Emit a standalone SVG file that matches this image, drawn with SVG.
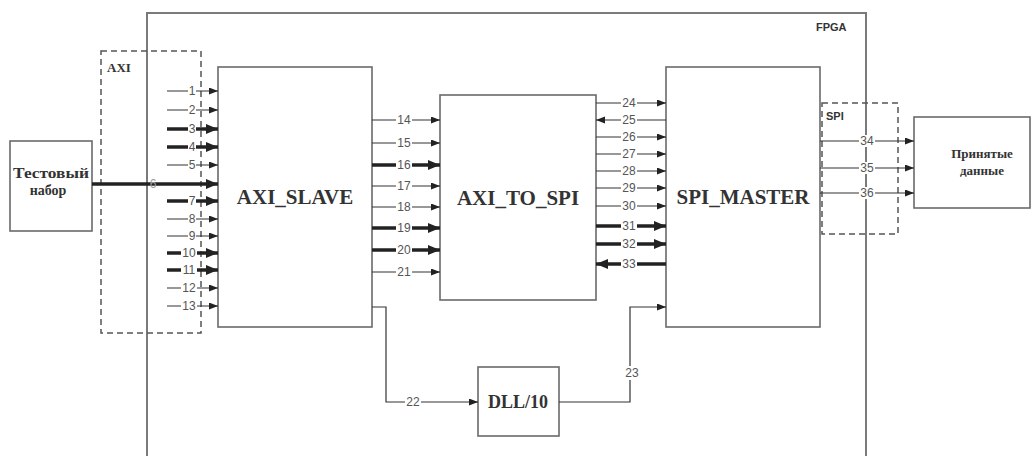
<svg xmlns="http://www.w3.org/2000/svg" width="1032" height="456" viewBox="0 0 1032 456">
<style>
.box{fill:#fff;stroke:#6a6a6a;stroke-width:1.6}
.dash{fill:none;stroke:#555;stroke-width:1.5;stroke-dasharray:6 4}
.fpga{fill:none;stroke:#7a7a7a;stroke-width:2}
.title{font-family:"Liberation Serif","Times New Roman",serif;font-weight:bold;fill:#333;text-anchor:middle}
.tag{font-family:"Liberation Sans",Arial,sans-serif;font-weight:bold;fill:#333;font-size:11px}
.thin{stroke:#333;stroke-width:1.2;fill:none;marker-end:url(#a)}
.thick{stroke:#222;stroke-width:3.5;fill:none;marker-end:url(#b)}
.bg{fill:#fff;stroke:none}
.lbl{font-family:"Liberation Sans",Arial,sans-serif;font-size:12px;fill:#555;text-anchor:middle}
</style>
<defs>
<marker id="a" markerUnits="userSpaceOnUse" markerWidth="10" markerHeight="8" refX="9" refY="3.5" orient="auto"><path d="M0,0 L9,3.5 L0,7 z" fill="#222"/></marker>
<marker id="b" markerUnits="userSpaceOnUse" markerWidth="14" markerHeight="12" refX="12" refY="5" orient="auto"><path d="M0,0 L12,5 L0,10 z" fill="#222"/></marker>
</defs>
<rect width="1032" height="456" fill="#fff"/>

<g id="fpga">
<path class="fpga" d="M147,470 V13 H866 V470"/>
<text class="tag" x="816" y="31">FPGA</text>
</g>

<g id="axi_bus">
<rect class="dash" x="101" y="51" width="100" height="282"/>
<text class="title" x="107" y="72" font-size="13" style="text-anchor:start">AXI</text>
</g>

<g id="spi_bus">
<rect class="dash" x="822" y="103" width="76" height="131"/>
<text class="tag" x="826" y="120">SPI</text>
</g>

<g id="test_set">
<rect class="box" x="10" y="141" width="82" height="90"/>
<text class="title" x="51" y="178" font-size="14" textLength="76" lengthAdjust="spacingAndGlyphs">Тестовый</text>
<text class="title" x="48" y="195" font-size="14">набор</text>
</g>

<g id="axi_slave">
<rect class="box" x="218" y="67" width="154" height="260"/>
<text class="title" x="295" y="204" font-size="21">AXI_SLAVE</text>
</g>

<g id="axi_to_spi">
<rect class="box" x="440" y="95" width="156" height="205"/>
<text class="title" x="518" y="205" font-size="21">AXI_TO_SPI</text>
</g>

<g id="spi_master">
<rect class="box" x="666" y="67" width="154" height="260"/>
<text class="title" x="743" y="204" font-size="21">SPI_MASTER</text>
</g>

<g id="dll">
<rect class="box" x="478" y="367" width="81" height="69"/>
<text class="title" x="518" y="408" font-size="18">DLL/10</text>
</g>

<g id="received">
<rect class="box" x="914" y="117" width="116" height="91"/>
<text class="title" x="982" y="158" font-size="13">Принятые</text>
<text class="title" x="982" y="175" font-size="13">данные</text>
</g>

<g id="connectors">
<!-- AXI inputs 1-13 -->
<path class="thin" d="M167,91 H218"/>
<path class="thin" d="M167,110 H218"/>
<path class="thick" d="M167,129 H218"/>
<path class="thick" d="M167,147 H218"/>
<path class="thin" d="M167,165 H218"/>
<path class="thick" d="M92,184 H218"/>
<path class="thick" d="M167,201 H218"/>
<path class="thin" d="M167,219 H218"/>
<path class="thin" d="M167,236 H218"/>
<path class="thick" d="M167,253 H218"/>
<path class="thick" d="M167,270 H218"/>
<path class="thin" d="M167,288 H218"/>
<path class="thin" d="M167,306 H218"/>

<!-- AXI_SLAVE to AXI_TO_SPI 14-21 -->
<path class="thin" d="M372,120 H440"/>
<path class="thin" d="M372,143 H440"/>
<path class="thick" d="M372,165 H440"/>
<path class="thin" d="M372,186 H440"/>
<path class="thin" d="M372,207 H440"/>
<path class="thick" d="M372,228 H440"/>
<path class="thick" d="M372,250 H440"/>
<path class="thin" d="M372,272 H440"/>

<!-- AXI_TO_SPI <-> SPI_MASTER 24-33 -->
<path class="thin" d="M596,103 H666"/>
<path class="thin" d="M666,120 H596"/>
<path class="thin" d="M596,137 H666"/>
<path class="thin" d="M596,154 H666"/>
<path class="thin" d="M596,171 H666"/>
<path class="thin" d="M596,188 H666"/>
<path class="thin" d="M596,206 H666"/>
<path class="thick" d="M596,226 H666"/>
<path class="thick" d="M596,244 H666"/>
<path class="thick" d="M666,264 H596"/>

<!-- clock path 22 / 23 -->
<path class="thin" d="M372,307 H386 V402 H478"/>
<path class="thin" d="M559,402 H630 V307 H666"/>

<!-- SPI outputs 34-36 -->
<path class="thin" d="M820,141 H914"/>
<path class="thin" d="M820,168 H914"/>
<path class="thin" d="M820,193 H914"/>

<!-- label backgrounds -->
<g class="bg">
<rect x="188" y="85" width="8" height="12"/>
<rect x="188" y="104" width="8" height="12"/>
<rect x="188" y="123" width="8" height="12"/>
<rect x="188" y="141" width="8" height="12"/>
<rect x="188" y="159" width="8" height="12"/>
<rect x="188" y="195" width="8" height="12"/>
<rect x="188" y="213" width="8" height="12"/>
<rect x="188" y="230" width="8" height="12"/>
<rect x="181" y="247" width="16" height="12"/>
<rect x="181" y="264" width="16" height="12"/>
<rect x="181" y="282" width="16" height="12"/>
<rect x="181" y="300" width="16" height="12"/>
<rect x="396" y="114" width="16" height="12"/>
<rect x="396" y="137" width="16" height="12"/>
<rect x="396" y="159" width="16" height="12"/>
<rect x="396" y="180" width="16" height="12"/>
<rect x="396" y="201" width="16" height="12"/>
<rect x="396" y="222" width="16" height="12"/>
<rect x="396" y="244" width="16" height="12"/>
<rect x="396" y="266" width="16" height="12"/>
<rect x="621" y="97" width="16" height="12"/>
<rect x="621" y="114" width="16" height="12"/>
<rect x="621" y="131" width="16" height="12"/>
<rect x="621" y="148" width="16" height="12"/>
<rect x="621" y="165" width="16" height="12"/>
<rect x="621" y="182" width="16" height="12"/>
<rect x="621" y="200" width="16" height="12"/>
<rect x="621" y="220" width="16" height="12"/>
<rect x="621" y="238" width="16" height="12"/>
<rect x="621" y="258" width="16" height="12"/>
<rect x="405" y="396" width="16" height="12"/>
<rect x="624" y="366" width="16" height="14"/>
<rect x="859" y="135" width="16" height="12"/>
<rect x="859" y="162" width="16" height="12"/>
<rect x="859" y="187" width="16" height="12"/>
</g>

<text class="lbl" x="192" y="95">1</text>
<text class="lbl" x="192" y="114">2</text>
<text class="lbl" x="192" y="133">3</text>
<text class="lbl" x="192" y="151">4</text>
<text class="lbl" x="192" y="169">5</text>
<text class="lbl" x="153" y="188" style="fill:#999">6</text>
<text class="lbl" x="192" y="205">7</text>
<text class="lbl" x="192" y="223">8</text>
<text class="lbl" x="192" y="240">9</text>
<text class="lbl" x="189" y="257">10</text>
<text class="lbl" x="189" y="274">11</text>
<text class="lbl" x="189" y="292">12</text>
<text class="lbl" x="189" y="310">13</text>
<text class="lbl" x="404" y="124">14</text>
<text class="lbl" x="404" y="147">15</text>
<text class="lbl" x="404" y="169">16</text>
<text class="lbl" x="404" y="190">17</text>
<text class="lbl" x="404" y="211">18</text>
<text class="lbl" x="404" y="232">19</text>
<text class="lbl" x="404" y="254">20</text>
<text class="lbl" x="404" y="276">21</text>
<text class="lbl" x="629" y="107">24</text>
<text class="lbl" x="629" y="124">25</text>
<text class="lbl" x="629" y="141">26</text>
<text class="lbl" x="629" y="158">27</text>
<text class="lbl" x="629" y="175">28</text>
<text class="lbl" x="629" y="192">29</text>
<text class="lbl" x="629" y="210">30</text>
<text class="lbl" x="629" y="230">31</text>
<text class="lbl" x="629" y="248">32</text>
<text class="lbl" x="629" y="268">33</text>
<text class="lbl" x="413" y="406">22</text>
<text class="lbl" x="632" y="377">23</text>
<text class="lbl" x="867" y="145">34</text>
<text class="lbl" x="867" y="172">35</text>
<text class="lbl" x="867" y="197">36</text>
</g>
</svg>
